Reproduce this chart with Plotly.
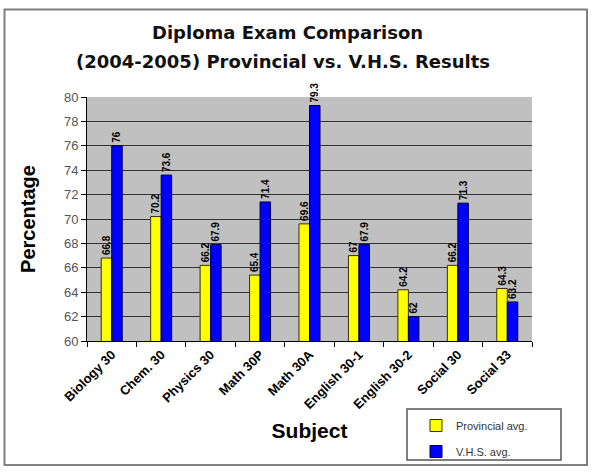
import plotly.graph_objects as go

subjects = ["Biology 30", "Chem. 30", "Physics 30", "Math 30P", "Math 30A",
            "English 30-1", "English 30-2", "Social 30", "Social 33"]
provincial = [66.8, 70.2, 66.2, 65.4, 69.6, 67, 64.2, 66.2, 64.3]
vhs = [76, 73.6, 67.9, 71.4, 79.3, 67.9, 62, 71.3, 63.2]
y_ticks = list(range(60, 81, 2))

W, H = 600, 472
L, R, T, B = 87, 532, 97, 341

def px(x):
    return (x - L) / (R - L)

def py(y):
    return (B - y) / (B - T)

ARIAL = "Arial, Liberation Sans, sans-serif"
lbl_font = dict(family=ARIAL, size=10, color="black")

fig = go.Figure()
fig.add_trace(go.Bar(
    x=subjects, y=provincial, name="Provincial avg.", legendgroup="p",
    marker=dict(color="#ffff00", line=dict(color="#333300", width=1)),
    text=[f"<b>{v:g}</b>" for v in provincial], textposition="outside",
    textangle=-90, textfont=lbl_font, cliponaxis=False, constraintext="none",
))
fig.add_trace(go.Bar(
    x=subjects, y=vhs, name="V.H.S. avg.", legendgroup="v",
    marker=dict(color="#0000ff", line=dict(color="#000033", width=1)),
    text=[f"<b>{v:g}</b>" for v in vhs], textposition="outside",
    textangle=-90, textfont=lbl_font, cliponaxis=False, constraintext="none",
))

shapes = [
    # outer chart frame
    dict(type="rect", xref="paper", yref="paper",
         x0=px(4.5), x1=px(587), y0=py(465), y1=py(9.5),
         line=dict(color="#808080", width=2), layer="below"),
    # legend box
    dict(type="rect", xref="paper", yref="paper",
         x0=px(407), x1=px(561), y0=py(460), y1=py(409),
         line=dict(color="#555555", width=1.5), fillcolor="white", layer="below"),
]

title_font = dict(family="DejaVu Sans, sans-serif", size=18, color="#111111")
annotations = [
    dict(text="<b>Diploma Exam Comparison</b>", xref="paper", yref="paper",
         x=px(287), y=py(33), xanchor="center", yanchor="middle",
         showarrow=False, font=title_font),
    dict(text="<b>(2004-2005) Provincial vs. V.H.S. Results</b>", xref="paper", yref="paper",
         x=px(283), y=py(61), xanchor="center", yanchor="middle",
         showarrow=False, font=title_font),
]

fig.update_layout(
    width=W, height=H,
    margin=dict(l=L, r=W - R, t=T, b=H - B, autoexpand=False),
    paper_bgcolor="white", plot_bgcolor="#c0c0c0",
    barmode="group", bargap=0.575, bargroupgap=0,
    font=dict(family=ARIAL, color="black"),
    showlegend=True,
    legend=dict(
        x=px(416), y=py(411), xanchor="left", yanchor="top",
        bgcolor="rgba(0,0,0,0)", borderwidth=0,
        font=dict(size=11, color="#333333"),
        itemwidth=30, tracegroupgap=7, traceorder="grouped",
    ),
    shapes=shapes,
    annotations=annotations,
)

fig.update_xaxes(
    showline=True, linecolor="black", linewidth=1,
    ticks="outside", ticklen=5, tickcolor="black", tickson="boundaries",
    tickangle=-45, tickfont=dict(size=13, color="black", family=ARIAL),
    tickprefix="<b>", ticksuffix="</b>",
    title=dict(text="<b>Subject</b>", font=dict(size=21), standoff=12),
    showgrid=False, automargin=False,
)
fig.update_yaxes(
    range=[60, 80], tickvals=y_ticks,
    showline=True, linecolor="black", linewidth=1,
    ticks="outside", ticklen=5, tickcolor="black",
    tickfont=dict(size=13, color="#555555"),
    showgrid=True, gridcolor="#333333", gridwidth=1.4,
    title=dict(text="<b>Percentage</b>", font=dict(size=20), standoff=22),
    zeroline=False, automargin=False,
)

fig.write_html("out.html", config={"displayModeBar": False},
               post_script="document.body.style.margin='0';")
